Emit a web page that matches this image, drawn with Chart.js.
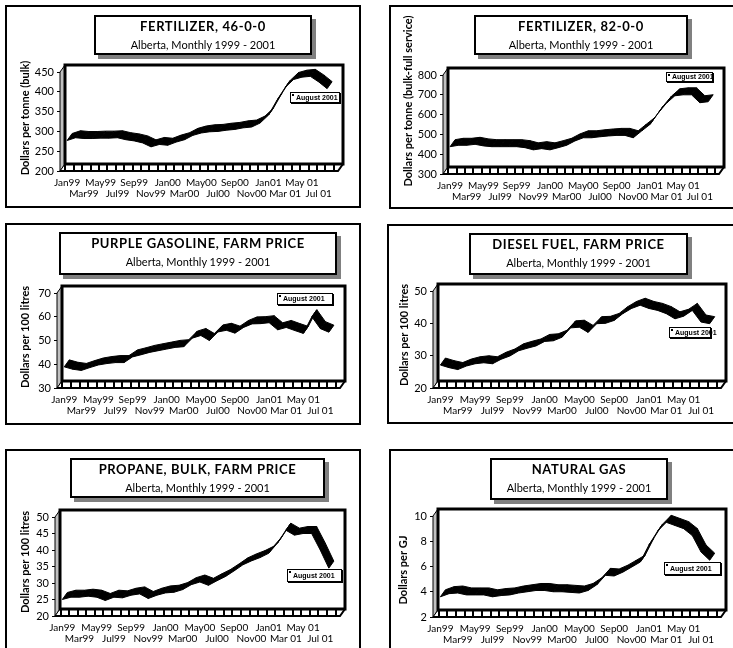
<!DOCTYPE html>
<html>
<head>
<meta charset="utf-8">
<script src="https://cdn.jsdelivr.net/npm/chart.js@4.4.1/dist/chart.umd.min.js"></script>
<style>
  html, body { margin: 0; padding: 0; background: #fff; }
  #page { position: relative; width: 733px; height: 648px; overflow: hidden; font-family: Lato, "DejaVu Sans", sans-serif; }
  .panel { position: absolute; border: 2px solid #000; box-sizing: border-box; background: #fff; }
  canvas { position: absolute; }
  .title-box { position: absolute; background: #fff; border: 2px solid #000; box-shadow: 4px 4px 0 #808080; box-sizing: border-box; text-align: center; z-index: 2; }
  .title-box .t { position: absolute; left: 0; right: 0; top: 2px; line-height: 14px; font-size: 13px; font-weight: bold; letter-spacing: 0.6px; }
  .title-box .s { position: absolute; left: 0; right: 0; top: 21px; line-height: 14px; font-size: 11px; }
  .legend { position: absolute; background: #fff; border: 1px solid #000; box-shadow: 1px 1px 0 #000; box-sizing: border-box; z-index: 2;
            font: bold 7px "Liberation Sans", Arial, sans-serif; padding-left: 5px; white-space: nowrap; }
  .legend i { position: absolute; left: 1px; top: 1px; width: 2px; height: 2px; background: #000; }
</style>
</head>
<body>
<div id="page"></div>
<script>
// ── Data ─────────────────────────────────────────────────
const months = [
  'Jan99', 'Feb99', 'Mar99', 'Apr99', 'May99', 'Jun99', 'Jul99', 'Aug99', 'Sep99', 'Oct99', 'Nov99', 'Dec99',
  'Jan00', 'Feb00', 'Mar00', 'Apr00', 'May00', 'Jun00', 'Jul00', 'Aug00', 'Sep00', 'Oct00', 'Nov00', 'Dec00',
  'Jan01', 'Feb01', 'Mar 01', 'Apr 01', 'May 01', 'Jun 01', 'Jul 01', 'Aug 01'
];

const fert46    = [277, 284, 282, 282, 283, 283, 284, 279, 276, 271, 261, 267, 265, 273, 279, 290, 296, 299, 300, 303, 305, 309, 311, 321, 341, 378, 411, 431, 437, 439, 425, 408];
const fert82    = [438, 445, 445, 450, 442, 438, 438, 438, 438, 433, 422, 428, 422, 433, 445, 467, 483, 483, 488, 492, 495, 495, 483, 517, 550, 608, 658, 695, 700, 700, 660, 665];
const purpleGas = [38.9, 37.9, 37.4, 38.6, 39.7, 40.3, 40.7, 40.7, 43.1, 44.0, 45.0, 45.7, 46.4, 47.1, 47.4, 51.0, 52.1, 50.0, 53.6, 54.3, 53.1, 55.5, 57.0, 57.1, 57.5, 54.5, 55.5, 54.2, 53.0, 60.0, 55.0, 53.5];
const diesel    = [27.1, 26.3, 25.7, 26.8, 27.5, 27.8, 27.5, 28.9, 29.9, 31.5, 32.3, 33.0, 34.4, 34.6, 35.7, 38.6, 38.8, 37.2, 39.9, 40.0, 40.9, 43.0, 44.6, 45.6, 44.6, 44.0, 43.0, 41.4, 42.2, 44.0, 40.4, 39.9];
const propane   = [25.0, 25.7, 25.7, 26.0, 25.7, 24.7, 25.7, 25.5, 26.3, 26.7, 25.3, 26.3, 27.0, 27.2, 28.0, 29.5, 30.3, 29.3, 30.7, 32.0, 33.7, 35.5, 36.7, 37.7, 39.0, 42.0, 46.0, 44.5, 45.0, 45.0, 40.0, 34.5];
const natGas    = [3.6, 3.85, 3.9, 3.75, 3.75, 3.75, 3.6, 3.7, 3.75, 3.9, 4.0, 4.1, 4.1, 4.0, 4.0, 3.95, 3.9, 4.1, 4.55, 5.3, 5.25, 5.55, 5.95, 6.35, 7.7, 8.8, 9.5, 9.25, 9.0, 8.45, 7.15, 6.5];

const subtitle = 'Alberta, Monthly 1999 - 2001';
const legendText = 'August 2001';

// ── Panels (layout only) ─────────────────────────────────
const panels = [
  { title: 'FERTILIZER, 46-0-0', yTitle: 'Dollars per tonne (bulk)', data: fert46, yMin: 200, yMax: 450, yStep: 50,
    box: [5, 5, 356, 203], tbox: [94, 15, 218, 40], front: [60, 72, 338, 171], yT: [25, 118], leg: [290, 92, 50, 11] },
  { title: 'FERTILIZER, 82-0-0', yTitle: 'Dollars per tonne (bulk-full service)', data: fert82, yMin: 300, yMax: 800, yStep: 100,
    box: [389, 5, 350, 204], tbox: [474, 15, 214, 40], front: [443, 75, 719, 174], yT: [408, 101], leg: [666, 72, 47, 10] },
  { title: 'PURPLE GASOLINE, FARM PRICE', yTitle: 'Dollars per 100 litres', data: purpleGas, yMin: 30, yMax: 70, yStep: 10,
    box: [5, 223, 356, 202], tbox: [59, 232, 278, 43], front: [57, 293, 340, 388], yT: [25, 337], leg: [277, 293, 56, 12] },
  { title: 'DIESEL FUEL, FARM PRICE', yTitle: 'Dollars per 100 litres', data: diesel, yMin: 20, yMax: 50, yStep: 5,
    box: [387, 224, 352, 200], tbox: [469, 233, 219, 42], front: [433, 291, 721, 388], yT: [404, 335], leg: [669, 327, 42, 11] },
  { title: 'PROPANE, BULK, FARM PRICE', yTitle: 'Dollars per 100 litres', data: propane, yMin: 20, yMax: 50, yStep: 5,
    box: [5, 449, 356, 220], tbox: [70, 458, 255, 40], front: [55, 517, 340, 616], yT: [25, 562], leg: [287, 569, 55, 13] },
  { title: 'NATURAL GAS', yTitle: 'Dollars per GJ', data: natGas, yMin: 2, yMax: 10, yStep: 2,
    box: [389, 449, 350, 220], tbox: [490, 458, 178, 42], front: [433, 516, 721, 617], yT: [403, 570], leg: [664, 562, 57, 13] },
];

const DX = 5, DY = -7;   // 3D depth offset
const XH = 30;           // x axis height

// ── 3D frame + ribbon plugin ─────────────────────────────
const frame3d = {
  id: 'frame3d',
  beforeDatasetsDraw(chart) {
    const { ctx, chartArea: a, scales: { x } } = chart;
    ctx.save();
    ctx.strokeStyle = '#000';
    // left wall
    ctx.beginPath();
    ctx.moveTo(a.left, a.top);
    ctx.lineTo(a.left + DX, a.top + DY);
    ctx.lineTo(a.left + DX, a.bottom + DY);
    ctx.lineTo(a.left, a.bottom);
    ctx.closePath();
    ctx.fillStyle = '#c0c0c0';
    ctx.fill();
    ctx.lineWidth = 1;
    ctx.stroke();
    // floor
    ctx.beginPath();
    ctx.moveTo(a.left, a.bottom);
    ctx.lineTo(a.right, a.bottom);
    ctx.lineTo(a.right + DX, a.bottom + DY);
    ctx.lineTo(a.left + DX, a.bottom + DY);
    ctx.closePath();
    ctx.fillStyle = '#fff';
    ctx.fill();
    ctx.stroke();
    // floor cells: short upright ticks at each month boundary
    ctx.lineWidth = 2;
    for (let i = 0; i <= months.length; i++) {
      const px = Math.round(x.getPixelForValue(i - 0.5) + DX / 2);
      if (px < a.left + 2 || px > a.right + 2) continue;
      ctx.beginPath();
      ctx.moveTo(px, a.bottom);
      ctx.lineTo(px, a.bottom + DY);
      ctx.stroke();
    }
    ctx.lineWidth = 2;
    ctx.beginPath();
    ctx.moveTo(a.left, a.bottom);
    ctx.lineTo(a.right, a.bottom);
    ctx.lineTo(a.right + DX, a.bottom + DY);
    ctx.stroke();
    // back wall frame
    ctx.lineWidth = 3;
    ctx.strokeRect(a.left + DX, a.top + DY, a.right - a.left, a.bottom - a.top);
    ctx.restore();
  },
  afterDatasetsDraw(chart) {
    const { ctx } = chart;
    const pts = chart.getDatasetMeta(0).data;
    ctx.save();
    ctx.fillStyle = '#000';
    ctx.strokeStyle = '#000';
    ctx.lineWidth = 1;
    ctx.lineJoin = 'round';
    for (let i = 0; i < pts.length - 1; i++) {
      const p = pts[i], q = pts[i + 1];
      ctx.beginPath();
      ctx.moveTo(p.x, p.y);
      ctx.lineTo(q.x, q.y);
      ctx.lineTo(q.x + DX, q.y + DY);
      ctx.lineTo(p.x + DX, p.y + DY);
      ctx.closePath();
      ctx.fill();
      ctx.stroke();
    }
    ctx.restore();
  },
  // y axis title, placed where the original puts it (not always centred on the axis)
  afterDraw(chart, args, opts) {
    if (!opts.text) return;
    const { ctx } = chart;
    ctx.save();
    ctx.translate(opts.x, opts.y);
    ctx.rotate(-Math.PI / 2);
    ctx.font = 'bold 11px Lato';
    ctx.fillStyle = '#000';
    ctx.textAlign = 'center';
    ctx.textBaseline = 'middle';
    ctx.fillText(opts.text, 0, 0);
    ctx.restore();
  },
};

// ── Build ────────────────────────────────────────────────
const page = document.getElementById('page');

function el(tag, cls, rect, parent) {
  const e = document.createElement(tag);
  if (cls) e.className = cls;
  if (rect) {
    e.style.left = rect[0] + 'px';
    e.style.top = rect[1] + 'px';
    e.style.width = rect[2] + 'px';
    e.style.height = rect[3] + 'px';
  }
  (parent || page).appendChild(e);
  return e;
}

for (const p of panels) {
  el('div', 'panel', p.box);

  const cx = p.box[0] + 2, cy = p.box[1] + 2;
  const cw = Math.min(p.box[2] - 4, 733 - cx);
  const ch = Math.min(p.box[3] - 4, 648 - cy);
  const canvas = el('canvas', null, null);
  canvas.width = cw; canvas.height = ch;
  canvas.style.left = cx + 'px'; canvas.style.top = cy + 'px';
  canvas.style.width = cw + 'px'; canvas.style.height = ch + 'px';

  const tb = el('div', 'title-box', p.tbox);
  el('div', 't', null, tb).textContent = p.title;
  el('div', 's', null, tb).textContent = subtitle;

  const lg = el('div', 'legend', p.leg);
  lg.style.lineHeight = (p.leg[3] - 2) + 'px';
  el('i', null, null, lg);
  lg.appendChild(document.createTextNode(legendText));

  const [L, T, R, B] = p.front;
  const padLeft = 4;
  const yWidth = (L - cx) - padLeft;

  new Chart(canvas.getContext('2d'), {
    type: 'line',
    data: {
      datasets: [{
        data: p.data.map((v, i) => ({ x: i, y: v })),
        showLine: false,
        pointRadius: 0,
        borderColor: '#000',
      }],
    },
    options: {
      responsive: false,
      animation: false,
      devicePixelRatio: 1,
      layout: { padding: { left: padLeft, top: T - cy, right: cw - (R - cx), bottom: ch - (B - cy) - XH } },
      plugins: {
        legend: { display: false },
        tooltip: { enabled: false },
        frame3d: { text: p.yTitle, x: p.yT[0] - cx, y: p.yT[1] - cy },
      },
      scales: {
        x: {
          type: 'linear',
          min: -0.85,
          max: 32.3,
          afterBuildTicks: s => {
            s.ticks = months.map((m, i) => ({ value: i })).filter(t => t.value % 2 === 0);
          },
          afterFit: s => { s.height = XH; },
          grid: { display: false, drawTicks: false },
          border: { display: false },
          ticks: {
            autoSkip: false, maxRotation: 0, minRotation: 0, padding: 6, color: '#000',
            font: { family: 'Lato', size: 10, lineHeight: 1.1 },
            callback: v => (v % 4 === 0 ? [months[v]] : ['', months[v]]),
          },
        },
        y: {
          min: p.yMin,
          max: p.yMax,
          afterFit: s => { s.width = yWidth; },
          border: { display: false },
          grid: { drawOnChartArea: false, drawTicks: true, tickLength: 3, color: '#000' },
          ticks: { stepSize: p.yStep, padding: 3, color: '#000', font: { family: 'Lato', size: 11 } },
        },
      },
    },
    plugins: [frame3d],
  });
}
</script>
</body>
</html>
